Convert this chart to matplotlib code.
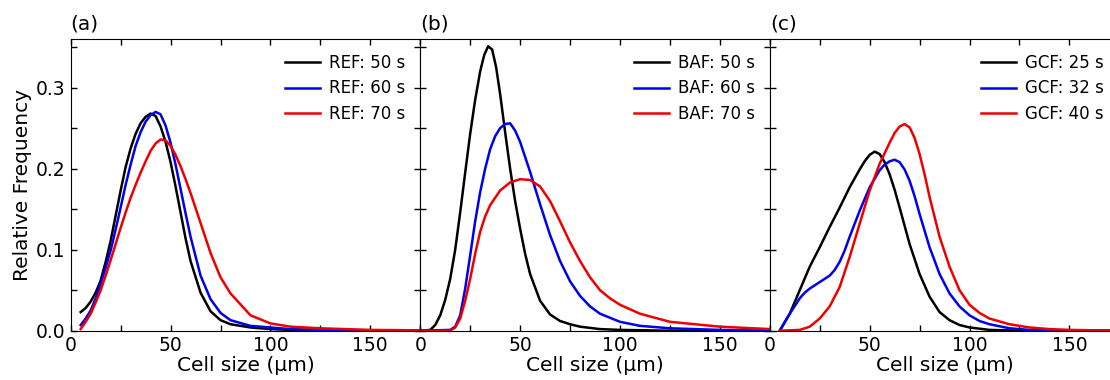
import matplotlib
matplotlib.use("Agg")
from matplotlib import pyplot as plt
from matplotlib.ticker import MultipleLocator

# (a) REF
ref_x = [5, 7.5, 10, 12.5, 15, 17.5, 20, 22.5, 25, 27.5, 30, 32.5, 35, 37.5, 40, 42.5, 45, 47.5, 50, 52.5,
         55, 57.5, 60, 65, 70, 75, 80, 90, 100, 110, 125, 150, 175]
ref50_y = [0.023, 0.028, 0.036, 0.047, 0.062, 0.085, 0.111, 0.142, 0.173, 0.202, 0.225, 0.243, 0.256, 0.264,
           0.268, 0.265, 0.252, 0.233, 0.208, 0.178, 0.146, 0.114, 0.086, 0.047, 0.024, 0.013, 0.008, 0.004,
           0.002, 0.001, 0.0005, 0.0002, 0.0]
ref60_y = [0.007, 0.015, 0.025, 0.040, 0.058, 0.078, 0.099, 0.125, 0.152, 0.180, 0.205, 0.228, 0.245, 0.258,
           0.266, 0.270, 0.267, 0.253, 0.232, 0.205, 0.175, 0.145, 0.116, 0.068, 0.039, 0.022, 0.013, 0.006,
           0.004, 0.002, 0.001, 0.0003, 0.0]
ref70_y = [0.002, 0.011, 0.021, 0.035, 0.050, 0.068, 0.087, 0.107, 0.127, 0.146, 0.164, 0.180, 0.195, 0.209,
           0.222, 0.231, 0.236, 0.235, 0.228, 0.217, 0.203, 0.187, 0.170, 0.133, 0.096, 0.066, 0.046, 0.019,
           0.009, 0.005, 0.003, 0.001, 0.0005]

# (b) BAF
baf50_x = [0, 5, 7.5, 10, 12.5, 15, 17.5, 20, 22.5, 25, 27.5, 30, 32, 34, 36, 38, 40, 42.5, 45, 47.5, 50,
           52.5, 55, 60, 65, 70, 75, 80, 90, 100, 125, 175]
baf50_y = [0.0, 0.001, 0.007, 0.019, 0.038, 0.064, 0.100, 0.146, 0.195, 0.243, 0.285, 0.320, 0.340, 0.351,
           0.347, 0.325, 0.292, 0.245, 0.200, 0.160, 0.126, 0.095, 0.070, 0.037, 0.020, 0.012, 0.008, 0.005,
           0.002, 0.001, 0.0, 0.0]
baf60_x = [0, 15, 17.5, 20, 22.5, 25, 27.5, 30, 32.5, 35, 37.5, 40, 42.5, 45, 47.5, 50, 55, 60, 65, 70, 75,
           80, 85, 90, 100, 110, 125, 150, 175]
baf60_y = [0.0, 0.001, 0.005, 0.019, 0.052, 0.093, 0.135, 0.171, 0.200, 0.224, 0.240, 0.250, 0.255, 0.256,
           0.247, 0.233, 0.196, 0.156, 0.118, 0.086, 0.061, 0.043, 0.030, 0.021, 0.011, 0.006, 0.003, 0.001, 0.0]
baf70_x = [0, 15, 17.5, 20, 22.5, 25, 27.5, 30, 32.5, 35, 40, 45, 50, 55, 60, 65, 70, 75, 80, 85, 90, 95,
           100, 110, 125, 150, 175]
baf70_y = [0.0, 0.0, 0.004, 0.015, 0.037, 0.064, 0.095, 0.122, 0.141, 0.155, 0.173, 0.183, 0.187, 0.186,
           0.178, 0.160, 0.135, 0.109, 0.086, 0.066, 0.050, 0.040, 0.032, 0.021, 0.011, 0.005, 0.002]

# (c) GCF
gcf25_x = [5, 10, 15, 20, 25, 30, 35, 40, 45, 47.5, 50, 52.5, 55, 57.5, 60, 62.5, 65, 70, 75, 80, 85, 90,
           95, 100, 110, 125, 175]
gcf25_y = [0.0, 0.021, 0.050, 0.079, 0.103, 0.128, 0.152, 0.177, 0.199, 0.209, 0.217, 0.221, 0.218, 0.208,
           0.193, 0.174, 0.152, 0.107, 0.070, 0.042, 0.023, 0.013, 0.007, 0.004, 0.001, 0.0, 0.0]
gcf32_x = [5, 10, 15, 17.5, 20, 22.5, 25, 27.5, 30, 32.5, 35, 37.5, 40, 45, 50, 55, 57.5, 60, 62.5, 65,
           67.5, 70, 72.5, 75, 80, 85, 90, 95, 100, 105, 110, 120, 130, 150, 175]
gcf32_y = [0.0, 0.021, 0.040, 0.047, 0.052, 0.056, 0.060, 0.064, 0.068, 0.075, 0.085, 0.099, 0.116, 0.148,
           0.177, 0.198, 0.205, 0.209, 0.211, 0.208, 0.199, 0.185, 0.166, 0.144, 0.103, 0.070, 0.046, 0.030,
           0.019, 0.012, 0.008, 0.003, 0.001, 0.0, 0.0]
gcf40_x = [5, 15, 20, 25, 30, 35, 40, 45, 50, 55, 60, 62.5, 65, 67.5, 70, 72.5, 75, 77.5, 80, 85, 90, 95,
           100, 105, 110, 120, 130, 140, 150, 175]
gcf40_y = [0.0, 0.001, 0.005, 0.015, 0.030, 0.054, 0.091, 0.132, 0.173, 0.206, 0.232, 0.244, 0.252, 0.255,
           0.251, 0.238, 0.218, 0.193, 0.165, 0.116, 0.079, 0.050, 0.032, 0.022, 0.015, 0.008, 0.004, 0.002,
           0.001, 0.0]

panels = [
    ("(a)", [(ref_x, ref50_y, "REF: 50 s"), (ref_x, ref60_y, "REF: 60 s"), (ref_x, ref70_y, "REF: 70 s")]),
    ("(b)", [(baf50_x, baf50_y, "BAF: 50 s"), (baf60_x, baf60_y, "BAF: 60 s"), (baf70_x, baf70_y, "BAF: 70 s")]),
    ("(c)", [(gcf25_x, gcf25_y, "GCF: 25 s"), (gcf32_x, gcf32_y, "GCF: 32 s"), (gcf40_x, gcf40_y, "GCF: 40 s")]),
]
colors = ["k", "#0000ee", "#ee0000"]

fig = plt.figure(figsize=(11.1, 3.8), dpi=100)
left0, width, bottom, height = 0.0637, 0.3149, 0.1297, 0.7677

for i, (tag, series) in enumerate(panels):
    ax = fig.add_axes([left0 + i * width, bottom, width, height])
    for (xs, ys, lab), c in zip(series, colors):
        ax.plot(xs, ys, color=c, lw=1.8, label=lab)
    ax.set_xlim(0, 175)
    ax.set_ylim(0, 0.36)
    ax.xaxis.set_major_locator(MultipleLocator(50))
    ax.xaxis.set_minor_locator(MultipleLocator(25))
    ax.yaxis.set_major_locator(MultipleLocator(0.1))
    ax.yaxis.set_minor_locator(MultipleLocator(0.05))
    ax.tick_params(which="both", direction="in", top=True, right=True, length=4.5, width=1,
                   labelsize=13.5)
    if i == 0:
        ax.set_ylabel("Relative Frequency", fontsize=14.5, labelpad=3)
    else:
        ax.tick_params(labelleft=False)
    ax.set_xlabel("Cell size (µm)", fontsize=14.5, labelpad=1)
    ax.text(0.0, 1.02, tag, transform=ax.transAxes, fontsize=14.5, ha="left", va="bottom")
    ax.legend(loc="upper right", frameon=False, fontsize=12, handlelength=2.1,
              handletextpad=0.55, labelspacing=0.45)
    if i == 2:
        ax.spines["right"].set_visible(False)

plt.savefig("out.png", dpi=100)
